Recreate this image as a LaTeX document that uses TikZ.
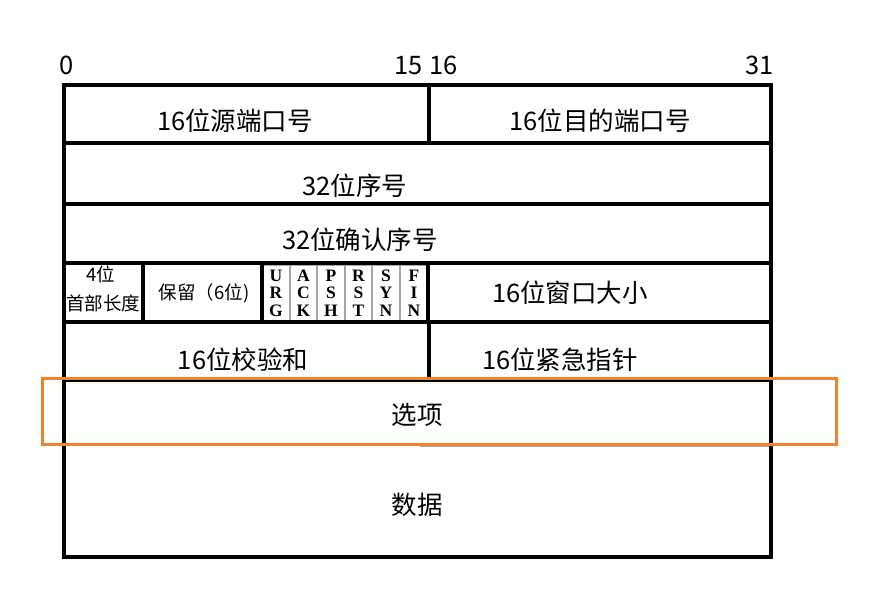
\documentclass[tikz,border=0pt]{standalone}
\usepackage{fontspec}
\setmainfont{Noto Sans CJK SC}
\newfontfamily\flagfont{Liberation Serif}
\begin{document}
\begin{tikzpicture}[x=1pt,y=-1pt,
  frame/.style={line width=3.4pt,black},
  thin/.style={line width=1.4pt,gray!70},
  lbl/.style={font=\fontsize{25.5}{28}\selectfont,inner sep=0pt},
  small/.style={font=\fontsize{18.5}{21}\selectfont,inner sep=0pt},
  flag/.style={font=\flagfont\bfseries\fontsize{17.5}{17.5}\selectfont,align=center,inner sep=0pt},
  hl/.style={line width=3pt,draw={rgb,255:red,245;green,130;blue,40}}]
\useasboundingbox (0,0) rectangle (882,607);
% bit labels
\node[lbl,anchor=base west] (b0) at (59,75) {0};
\node[lbl,anchor=base east] (b15) at (423,75) {15};
\node[lbl,anchor=base west] (b16) at (429,75) {16};
\node[lbl,anchor=base east] (b31) at (774,75) {31};
% flag cells (thin grey)
\foreach \i/\xa/\xb/\t in {0/262/290/{U\\R\\G},1/290/317/{A\\C\\K},2/317/345/{P\\S\\H},3/345/372/{R\\S\\T},4/372/400/{S\\Y\\N},5/400/428/{F\\I\\N}}{
  \draw[thin] (\xa,265) rectangle (\xb,321);
  \node[flag] (f\i) at ({(\xa+\xb)/2},293) {\t};
}
% lower options line (grey)
\draw[thin,line width=2pt] (420,446) -- (771,446);
% frame
\draw[frame] (64,85) rectangle (771,557);
\draw[frame] (64,143) -- (771,143);
\draw[frame] (64,204) -- (771,204);
\draw[frame] (64,263) -- (771,263);
\draw[frame] (64,322) -- (771,322);
\draw[frame] (64,380) -- (771,380);
\draw[frame] (429,85) -- (429,143);
\draw[frame] (429,322) -- (429,380);
\draw[frame] (143,263) -- (143,322);
\draw[frame] (262,263) -- (262,322);
\draw[frame] (428,263) -- (428,322);
% texts
\node[lbl] (src) at (235,121) {16位源端口号};
\node[lbl] (dst) at (600,121) {16位目的端口号};
\node[lbl] (seq) at (355,186) {32位序号};
\node[lbl] (ack) at (360,240) {32位确认序号};
\node[small] (hl4) at (101,274) {4位};
\node[small] (hlen) at (103,303) {首部长度};
\node[small] (res) at (204,293) {保留（6位)};
\node[lbl] (win) at (570,293) {16位窗口大小};
\node[lbl] (chk) at (243,360) {16位校验和};
\node[lbl] (urg) at (560,360) {16位紧急指针};
\node[lbl] (opt) at (417,415) {选项};
\node[lbl] (data) at (417,505) {数据};
% highlight
\draw[hl] (42,378) rectangle (836,444);
\end{tikzpicture}
\end{document}
